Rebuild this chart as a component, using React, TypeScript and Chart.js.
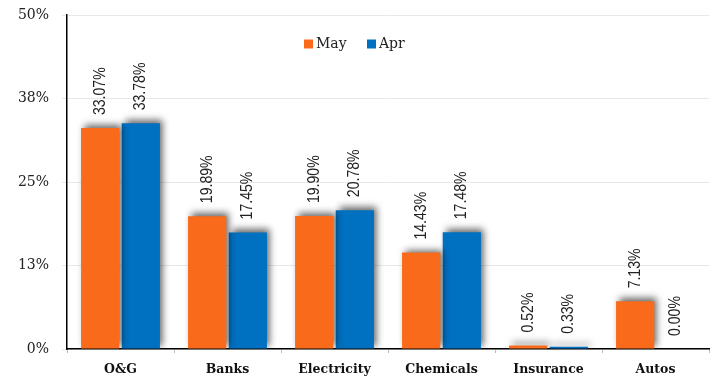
import React, { useEffect, useRef } from "react";
import { Chart, registerables } from "chart.js";

Chart.register(...registerables);

const categories = ["O&G", "Banks", "Electricity", "Chemicals", "Insurance", "Autos"];
const mayValues = [33.07, 19.89, 19.9, 14.43, 0.52, 7.13];
const aprValues = [33.78, 17.45, 20.78, 17.48, 0.33, 0.0];
const seriesNames = ["May", "Apr"];
const seriesColors = ["#F96A1A", "#0070C0"];

const serif = "'DejaVu Serif', 'Liberation Serif', serif";
const sans = "'Liberation Sans', Arial, sans-serif";

// soft drop shadow behind every bar
const barShadow = {
  id: "barShadow",
  beforeDatasetsDraw(chart: any) {
    const ctx = chart.ctx;
    ctx.save();
    ctx.shadowColor = "rgba(0,0,0,0.6)";
    ctx.shadowBlur = 7;
    ctx.shadowOffsetX = 3;
    ctx.shadowOffsetY = -3;
  },
  afterDatasetsDraw(chart: any) {
    chart.ctx.restore();
  },
};

// vertical value labels above each bar (slightly condensed)
const valueLabels = {
  id: "valueLabels",
  afterDraw(chart: any) {
    const ctx = chart.ctx;
    ctx.save();
    ctx.font = `16px ${sans}`;
    ctx.fillStyle = "#222";
    ctx.textAlign = "left";
    ctx.textBaseline = "middle";
    chart.data.datasets.forEach((ds: any, di: number) => {
      const meta = chart.getDatasetMeta(di);
      meta.data.forEach((bar: any, i: number) => {
        const v = ds.data[i] as number;
        ctx.save();
        ctx.translate(bar.x, bar.y - 13);
        ctx.rotate(-Math.PI / 2);
        ctx.scale(0.88, 1);
        ctx.fillText(v.toFixed(2) + "%", 0, 0);
        ctx.restore();
      });
    });
    ctx.restore();
  },
};

// legend placed inside the plot area
const innerLegend = {
  id: "innerLegend",
  afterDraw(chart: any) {
    const ctx = chart.ctx;
    const area = chart.chartArea;
    ctx.save();
    ctx.font = `14px ${serif}`;
    ctx.textBaseline = "middle";
    ctx.textAlign = "left";
    const y = area.top + 29;
    let x = area.left + 237;
    chart.data.datasets.forEach((ds: any) => {
      ctx.fillStyle = ds.backgroundColor;
      ctx.fillRect(x, y - 4.5, 9, 9);
      ctx.fillStyle = "#222";
      ctx.fillText(ds.label, x + 12, y);
      x += 63;
    });
    ctx.restore();
  },
};

export default function App() {
  const canvasRef = useRef<HTMLCanvasElement | null>(null);

  useEffect(() => {
    if (!canvasRef.current) return;
    const chart = new Chart(canvasRef.current, {
      type: "bar",
      data: {
        labels: categories,
        datasets: [
          { label: seriesNames[0], data: mayValues, backgroundColor: seriesColors[0] },
          { label: seriesNames[1], data: aprValues, backgroundColor: seriesColors[1] },
        ],
      },
      options: {
        animation: false,
        responsive: true,
        maintainAspectRatio: false,
        layout: { padding: { top: 15, right: 8, left: 0, bottom: 0 } },
        datasets: {
          bar: { categoryPercentage: 0.76, barPercentage: 0.94, borderWidth: 0 },
        },
        plugins: {
          legend: { display: false },
          tooltip: { enabled: false },
        },
        scales: {
          x: {
            afterFit(scale: any) {
              scale.height = 32;
              scale.paddingLeft = 0;
              scale.paddingRight = 0;
            },
            border: { color: "#000", width: 1.5 },
            grid: {
              drawOnChartArea: false,
              offset: true,
              tickLength: 4,
              color: "#bbb",
            },
            ticks: {
              padding: 9,
              color: "#111",
              font: { family: serif, size: 12.5, weight: "bold" },
            },
          },
          y: {
            min: 0,
            max: 50,
            afterFit(scale: any) {
              scale.width = 67;
              scale.paddingTop = 0;
              scale.paddingBottom = 0;
            },
            border: { color: "#000", width: 1.5 },
            grid: { color: "#e8e8e8", tickLength: 5 },
            ticks: {
              stepSize: 12.5,
              padding: 13,
              color: "#222",
              font: { family: serif, size: 14 },
              callback: (v: any) => Math.round(Number(v)) + "%",
            },
          },
        },
      },
      plugins: [barShadow, valueLabels, innerLegend],
    });
    return () => chart.destroy();
  }, []);

  return (
    <div style={{ position: "fixed", left: 0, top: 0, width: 717, height: 381, background: "#fff" }}>
      <canvas ref={canvasRef} />
    </div>
  );
}
